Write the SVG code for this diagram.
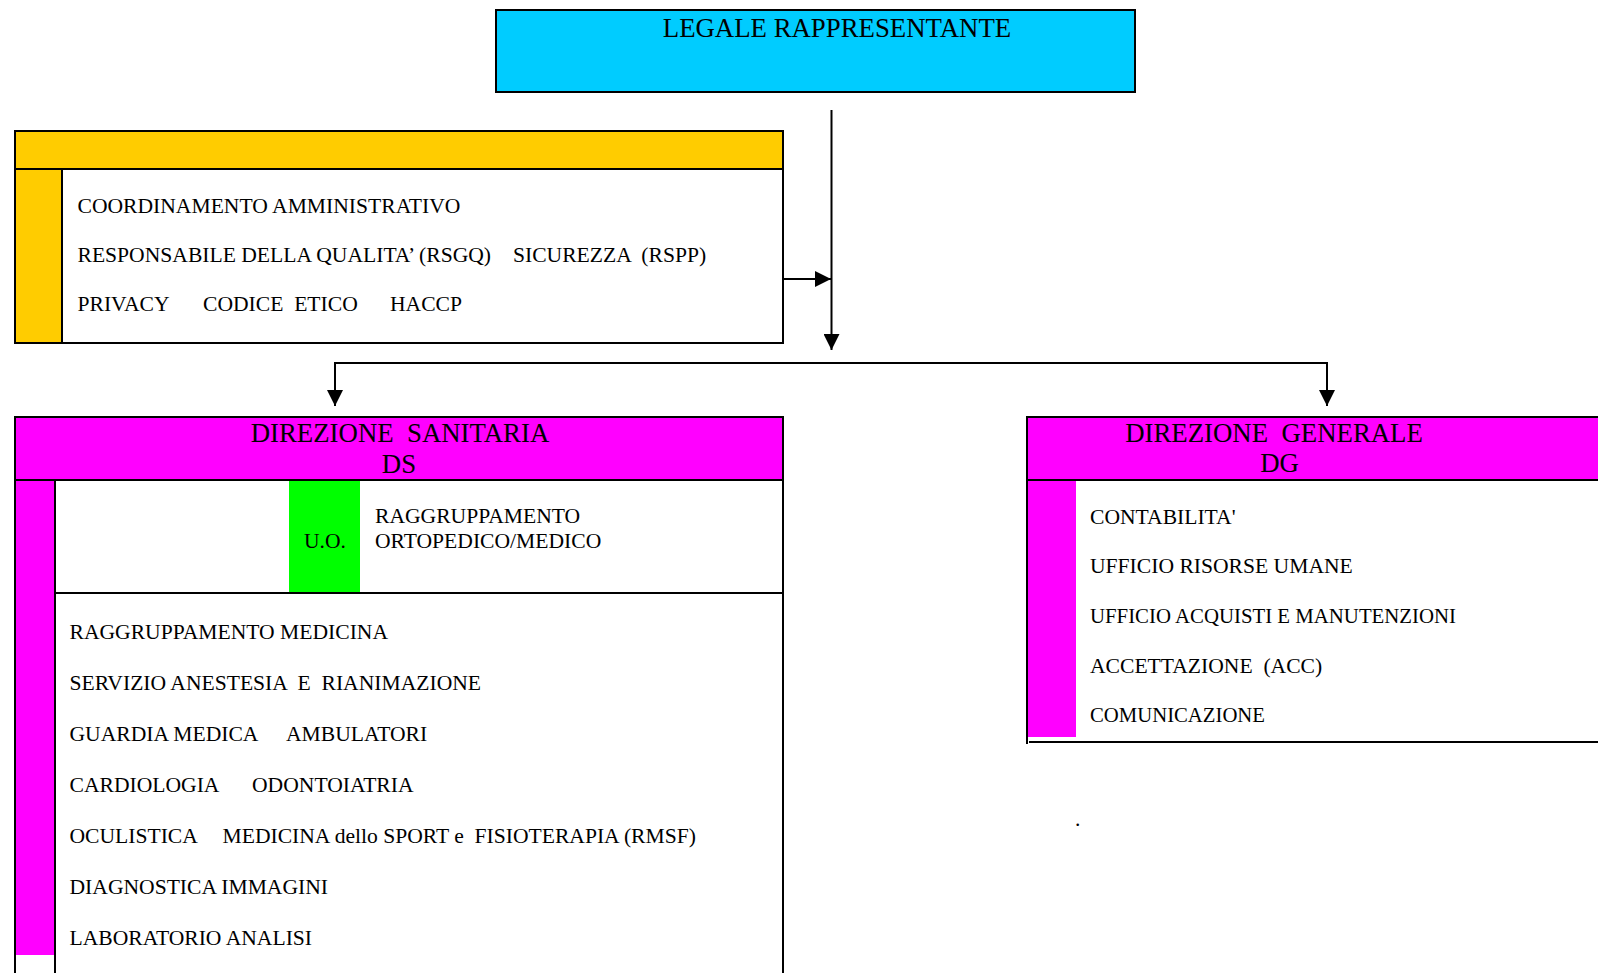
<svg xmlns="http://www.w3.org/2000/svg" width="1598" height="973" viewBox="0 0 1598 973" xml:space="preserve">
<style>
.t{font-family:"Liberation Serif","Times New Roman",serif;font-size:21.6px;fill:#000;white-space:pre}
.h{font-size:26.8px}
.ln{stroke:#000;stroke-width:2;fill:none}
.conn line{stroke:#000;stroke-width:2;fill:none}
.cyan{fill:#00CCFF}
.yel{fill:#FFCC00}
.mag{fill:#FF00FF}
.grn{fill:#00FF00}
</style>
<defs>
<marker id="ah" viewBox="0 0 16 16" refX="16" refY="8" markerWidth="16" markerHeight="16" markerUnits="userSpaceOnUse" orient="auto">
<path d="M0,0 L16,8 L0,16 z" fill="#000"/>
</marker>
</defs>
<rect width="1598" height="973" fill="#fff"/>

<g id="legale">
<rect class="cyan ln" x="496" y="10" width="639" height="82"/>
<text class="t h" x="837" y="37" text-anchor="middle">LEGALE RAPPRESENTANTE</text>
</g>

<g id="staff">
<rect x="15" y="131" width="768" height="212" fill="#fff"/>
<rect class="yel" x="15" y="131" width="768" height="38"/>
<rect class="yel" x="15" y="169" width="47" height="174"/>
<rect class="ln" x="15" y="131" width="768" height="212"/>
<line class="ln" x1="15" y1="169" x2="783" y2="169"/>
<line class="ln" x1="62" y1="169" x2="62" y2="343"/>
<text class="t" x="77.5" y="213">COORDINAMENTO AMMINISTRATIVO</text>
<text class="t" x="77.5" y="262">RESPONSABILE DELLA QUALITA’ (RSGQ)</text>
<text class="t" x="513" y="262">SICUREZZA  (RSPP)</text>
<text class="t" x="77.5" y="311">PRIVACY</text>
<text class="t" x="203" y="311">CODICE  ETICO</text>
<text class="t" x="390" y="311">HACCP</text>
</g>

<g id="ds">
<rect x="15" y="417" width="768" height="600" fill="#fff"/>
<rect class="mag" x="15" y="417" width="768" height="63"/>
<rect class="mag" x="15" y="480" width="40" height="475"/>
<rect class="grn" x="289" y="481" width="71" height="112"/>
<rect class="ln" x="15" y="417" width="768" height="600"/>
<line class="ln" x1="15" y1="480" x2="783" y2="480"/>
<line class="ln" x1="55" y1="480" x2="55" y2="980"/>
<line class="ln" x1="55" y1="593" x2="783" y2="593"/>
<text class="t h" x="400" y="442" text-anchor="middle">DIREZIONE  SANITARIA</text>
<text class="t h" x="399" y="472.5" text-anchor="middle">DS</text>
<text class="t" x="304" y="548">U.O.</text>
<text class="t" x="375" y="523">RAGGRUPPAMENTO</text>
<text class="t" x="375" y="548">ORTOPEDICO/MEDICO</text>
<text class="t" x="69.5" y="639">RAGGRUPPAMENTO MEDICINA</text>
<text class="t" x="69.5" y="690">SERVIZIO ANESTESIA  E  RIANIMAZIONE</text>
<text class="t" x="69.5" y="741">GUARDIA MEDICA</text>
<text class="t" x="286" y="741">AMBULATORI</text>
<text class="t" x="69.5" y="792">CARDIOLOGIA</text>
<text class="t" x="252" y="792">ODONTOIATRIA</text>
<text class="t" x="69.5" y="843">OCULISTICA</text>
<text class="t" x="222.5" y="843">MEDICINA dello SPORT e  FISIOTERAPIA (RMSF)</text>
<text class="t" x="69.5" y="894">DIAGNOSTICA IMMAGINI</text>
<text class="t" x="69.5" y="945">LABORATORIO ANALISI</text>
</g>

<g id="dg">
<rect class="mag" x="1027" y="417" width="600" height="63"/>
<rect class="mag" x="1028" y="480" width="48" height="257"/>
<line class="ln" x1="1027" y1="417" x2="1610" y2="417"/>
<line class="ln" x1="1027" y1="480" x2="1610" y2="480"/>
<line class="ln" x1="1027" y1="416" x2="1027" y2="744"/>
<line class="ln" x1="1029" y1="742" x2="1610" y2="742"/>
<text class="t h" x="1274" y="441.5" text-anchor="middle">DIREZIONE  GENERALE</text>
<text class="t h" x="1279.5" y="471.5" text-anchor="middle">DG</text>
<text class="t" x="1090" y="524">CONTABILITA'</text>
<text class="t" x="1090" y="573">UFFICIO RISORSE UMANE</text>
<text class="t" x="1090" y="622.5" textLength="366" lengthAdjust="spacingAndGlyphs">UFFICIO ACQUISTI E MANUTENZIONI</text>
<text class="t" x="1090" y="672.5">ACCETTAZIONE  (ACC)</text>
<text class="t" x="1090" y="721.5" textLength="175" lengthAdjust="spacingAndGlyphs">COMUNICAZIONE</text>
<text class="t" x="1075" y="826" font-size="12">.</text>
</g>

<g id="connectors" class="conn">
<line x1="831.5" y1="110" x2="831.5" y2="350" marker-end="url(#ah)"/>
<line x1="783" y1="279" x2="831" y2="279" marker-end="url(#ah)"/>
<line x1="334" y1="363" x2="1328" y2="363"/>
<line x1="335" y1="362" x2="335" y2="406" marker-end="url(#ah)"/>
<line x1="1327" y1="362" x2="1327" y2="406" marker-end="url(#ah)"/>
</g>
</svg>
